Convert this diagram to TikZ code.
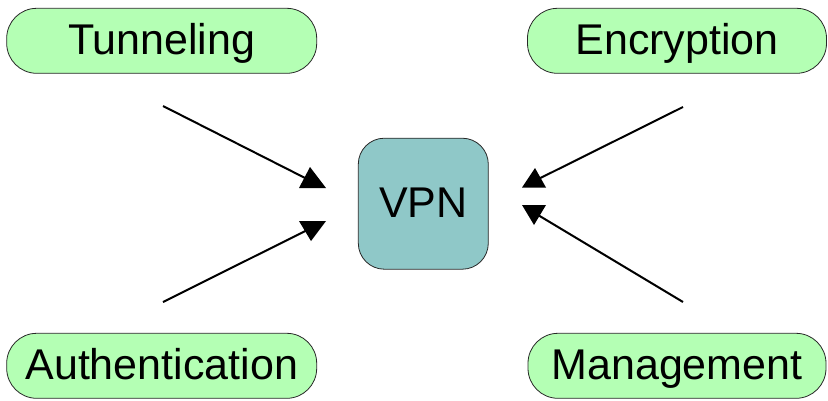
\documentclass[tikz,border=0pt]{standalone}
\usepackage{fontspec}
\setmainfont{Liberation Sans}
\definecolor{pillgreen}{RGB}{180,255,180}
\definecolor{vpnteal}{RGB}{143,200,200}
\definecolor{edgegray}{RGB}{40,40,40}
\begin{document}
\begin{tikzpicture}[x=1pt,y=-1pt,
  label font/.style={font=\fontsize{43}{50}\selectfont, text height=31pt, text depth=3pt, inner sep=0pt},
  pill/.style={label font, draw=edgegray, line width=0.8pt, fill=pillgreen,
    rounded corners=30pt, minimum height=65pt},
  hub/.style={label font, draw=edgegray, line width=0.8pt, fill=vpnteal,
    rounded corners=26pt, minimum width=130pt, minimum height=131pt},
  feed/.style={line width=2pt, black},
  tip/.style={fill=black, draw=none}]
\useasboundingbox (0,0) rectangle (828,400);

% central box
\node[hub] (vpn) at (423.3,203.7) {VPN};

% four feature pills
\node[pill, minimum width=310pt] (tun) at (161.7,40.8) {Tunneling};
\node[pill, minimum width=299pt] (enc) at (677,40.8) {Encryption};
\node[pill, minimum width=310pt] (auth) at (161.7,365.8) {Authentication};
\node[pill, minimum width=298pt] (mgmt) at (677,365.8) {Management};

% line ends near the pills and near the hub
\coordinate (tunS) at (163,106);
\coordinate (tunE) at (312,181.5);
\coordinate (authS) at (163,302);
\coordinate (authE) at (312,227.7);
\coordinate (encS) at (683,107);
\coordinate (encE) at (534,181.2);
\coordinate (mgmtS) at (683,302);
\coordinate (mgmtE) at (534,212.6);

\draw[feed] (tunS) -- (tunE);
\draw[feed] (authS) -- (authE);
\draw[feed] (encS) -- (encE);
\draw[feed] (mgmtS) -- (mgmtE);

% arrowheads, flattened on the side facing the hub's mid line
\fill[tip] (310,167) -- (299,188) -- (326,188) -- cycle;
\fill[tip] (299,221) -- (326,221) -- (311,241) -- cycle;
\fill[tip] (535,168) -- (522,187.5) -- (546,187.5) -- cycle;
\fill[tip] (522,205) -- (546,205) -- (534,225) -- cycle;
\end{tikzpicture}
\end{document}
